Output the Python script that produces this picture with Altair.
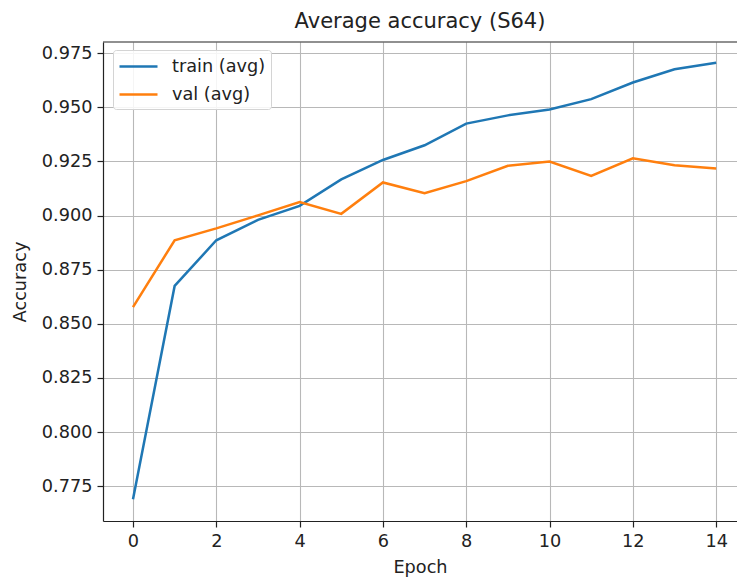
import altair as alt
import pandas as pd

epochs = list(range(15))
train_avg = [0.769, 0.8675, 0.8886, 0.898, 0.9045, 0.9167, 0.9257, 0.9325, 0.9425,
             0.9463, 0.949, 0.9538, 0.9615, 0.9676, 0.9706]
val_avg = [0.8577, 0.8886, 0.8941, 0.9001, 0.9063, 0.9008, 0.9153, 0.9103, 0.9159,
           0.923, 0.925, 0.9183, 0.9265, 0.9233, 0.9218]
series_names = ["train (avg)", "val (avg)"]
series_colors = ["#1f77b4", "#ff7f0e"]
x_ticks = [0, 2, 4, 6, 8, 10, 12, 14]
y_ticks = [0.775, 0.8, 0.825, 0.85, 0.875, 0.9, 0.925, 0.95, 0.975]

rows = []
for e, t, v in zip(epochs, train_avg, val_avg):
    rows.append({"Epoch": e, "Accuracy": t, "series": series_names[0]})
    rows.append({"Epoch": e, "Accuracy": v, "series": series_names[1]})
df = pd.DataFrame(rows)

W, H = 634, 479
FONT = "DejaVu Sans"
FS = 17.7

lines = alt.Chart(df).mark_line(strokeWidth=2.5).encode(
    x=alt.X("Epoch:Q",
            scale=alt.Scale(domain=[-0.72, 14.5], nice=False, zero=False),
            axis=alt.Axis(values=x_ticks, format="d", title="Epoch")),
    y=alt.Y("Accuracy:Q",
            scale=alt.Scale(domain=[0.7589, 0.9802], nice=False, zero=False),
            axis=alt.Axis(values=y_ticks, format=".3f", title="Accuracy")),
    color=alt.Color("series:N",
                    scale=alt.Scale(domain=series_names, range=series_colors),
                    sort=series_names,
                    legend=alt.Legend(title=None, orient="none", legendX=10, legendY=8,
                                      symbolType="M-1,0L2.8,0", symbolSize=400,
                                      symbolStrokeWidth=2.5, labelOffset=31,
                                      labelFontSize=FS, labelFont=FONT, labelColor="#222",
                                      rowPadding=7,
                                      padding=5, fillColor="rgba(255,255,255,0.85)",
                                      strokeColor="#d4d4d4", cornerRadius=3)),
)

top_border = alt.Chart(pd.DataFrame({"a": [0]})).mark_rule(color="#222", strokeWidth=1.2).encode(
    x=alt.value(0), x2=alt.value(W), y=alt.value(0)
)

chart = alt.layer(lines, top_border).properties(
    width=W, height=H,
    title=alt.Title("Average accuracy (S64)", fontSize=21, font=FONT, fontWeight="normal",
                    color="#222", offset=9),
    autosize=alt.AutoSizeParams(type="none"),
    padding={"left": 103, "top": 42, "right": 0, "bottom": 56},
).configure_view(stroke=None).configure_axis(
    grid=True, gridColor="#b8b8b8", gridWidth=1.1,
    domainColor="#222", domainWidth=1.2,
    tickColor="#222", tickSize=6, tickWidth=1.2,
    labelFont=FONT, labelFontSize=FS, labelColor="#222",
    titleFont=FONT, titleFontSize=FS, titleFontWeight="normal", titleColor="#222",
    labelPadding=5,
).configure_axisX(titlePadding=9).configure_axisY(titlePadding=12)

chart.save("out.html", embed_options={"renderer": "svg", "actions": False})
